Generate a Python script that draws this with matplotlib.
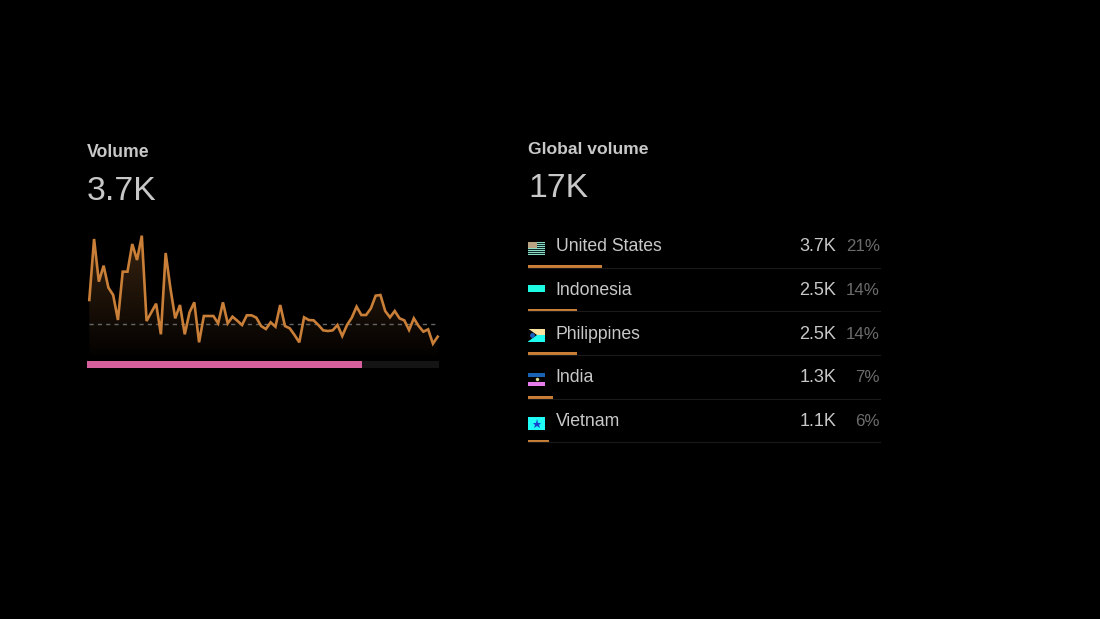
import matplotlib.pyplot as plt
import numpy as np
from matplotlib.patches import Polygon, Rectangle

# sparkline values
volume = [
    165, 348, 220, 268, 202, 180, 105, 250, 250, 333, 285, 358, 102, 128, 154, 62, 306,
    200, 110, 150, 62, 128, 158, 38, 117, 117, 117, 95, 158, 95, 115, 103, 90, 119, 119,
    112, 87, 78, 98, 85, 150, 87, 80, 60, 38, 113, 105, 104, 90, 74, 72, 74, 90, 57, 90,
    112, 145, 120, 120, 140, 178, 180, 132, 113, 132, 110, 104, 75, 110, 87, 70, 77, 34, 55,
]
volume_avg = 92
share_of_global = 0.78

countries = ["United States", "Indonesia", "Philippines", "India", "Vietnam"]
country_volume = ["3.7K", "2.5K", "2.5K", "1.3K", "1.1K"]
country_pct = [21, 14, 14, 7, 6]

ORANGE = "#c97f38"
TEXT = "#c8c8c8"
FONT = "Liberation Sans"
W, H = 1100, 619


def draw_flag(ax, name, x, y):
    # small flag sketches, 17px wide
    if name == "United States":
        ax.add_patch(Rectangle((x, y), 17, 13.5, color="#0c2a2a", lw=0))
        for i in range(7):
            ax.add_patch(Rectangle((x, y + i * 2), 17, 1.1, color="#8fdcc4", lw=0))
        ax.add_patch(Rectangle((x, y), 9, 6.5, color="#b8a482", lw=0))
    elif name == "Indonesia":
        ax.add_patch(Rectangle((x, y), 17, 6.5, color="#1dfbe3", lw=0))
    elif name == "Philippines":
        ax.add_patch(Rectangle((x, y), 17, 6.5, color="#f7e2a0", lw=0))
        ax.add_patch(Rectangle((x, y + 6.5), 17, 6.5, color="#1dfbf0", lw=0))
        ax.add_patch(Polygon([(x, y), (x + 9, y + 6.5), (x, y + 13)], color="#050505", lw=0))
        ax.plot([x + 3.5], [y + 6.5], "o", ms=3.5, color="#1a5fc0", mew=0)
    elif name == "India":
        ax.add_patch(Rectangle((x, y), 17, 4.3, color="#1a62b4", lw=0))
        ax.add_patch(Rectangle((x, y + 9), 17, 4.3, color="#e67cec", lw=0))
        ax.plot([x + 8.5], [y + 6.7], "o", ms=2.5, color="#d8d890", mew=0)
    elif name == "Vietnam":
        ax.add_patch(Rectangle((x, y), 17, 13, color="#1ffbf5", lw=0))
        ax.plot([x + 8.5], [y + 6.5], "*", ms=6.5, color="#1a40d0", mew=0)


fig = plt.figure(figsize=(W / 100, H / 100), dpi=100, facecolor="black")

# full figure axes in pixel coordinates for the text and the table
page = fig.add_axes([0, 0, 1, 1])
page.set_xlim(0, W)
page.set_ylim(H, 0)
page.axis("off")

page.text(87, 157, "Volume", color=TEXT, fontsize=12.7, fontweight="bold", family=FONT)
page.text(87, 200, "3.7K", color=TEXT, fontsize=24.3, family=FONT)
page.text(528, 154, "Global volume", color=TEXT, fontsize=12.6, fontweight="bold", family=FONT)
page.text(528, 197, "17K", color=TEXT, fontsize=24.3, family=FONT)

# share bar under the sparkline
page.add_patch(Rectangle((87, 361), 352, 7, color="#141414", lw=0))
page.add_patch(Rectangle((87, 361), 352 * share_of_global, 7, color="#d65f9d", lw=0))

flag_tops = [241.5, 285, 328.5, 372.7, 417]
for i, name in enumerate(countries):
    base = 267.5 + i * 43.7
    page.plot([528, 880], [base, base], color="#1a1a1a", lw=0.8)
    page.add_patch(Rectangle((528, base - 2.7), 352 * country_pct[i] / 100, 3, color=ORANGE, lw=0))
    draw_flag(page, name, 528, flag_tops[i])
    page.text(555.5, base - 16.2, name, color=TEXT, fontsize=12.7, family=FONT)
    page.text(836.5, base - 16.2, country_volume[i], color=TEXT, fontsize=13, ha="right", family=FONT)
    page.text(880, base - 16.2, f"{country_pct[i]}%", color="#6c6c6c", fontsize=12.2, ha="right", family=FONT)

# sparkline
ax = fig.add_axes([89.3 / W, 1 - 355 / H, 348.4 / W, 130 / H])
ax.patch.set_alpha(0)
ax.axis("off")
ax.set_xlim(0, len(volume) - 1)
ax.set_ylim(0, 390)
x = np.arange(len(volume))

grad = np.zeros((256, 1, 4))
grad[:, 0, :3] = (0.79, 0.5, 0.22)
grad[:, 0, 3] = np.linspace(0.3, 0.02, 256)
img = ax.imshow(grad, extent=(0, len(volume) - 1, 0, 390), aspect="auto", zorder=1)
verts = [(0, 0)] + list(zip(x, volume)) + [(len(volume) - 1, 0)]
clip = Polygon(verts, transform=ax.transData, fc="none", ec="none")
ax.add_patch(clip)
img.set_clip_path(clip)

ax.axhline(volume_avg, color="#666666", lw=1.0, ls=(0, (3, 3)), zorder=2)
ax.plot(x, volume, color=ORANGE, lw=1.9, zorder=3, solid_joinstyle="miter", clip_on=False)

fig.savefig("out.png", dpi=100, facecolor="black")
plt.close(fig)
